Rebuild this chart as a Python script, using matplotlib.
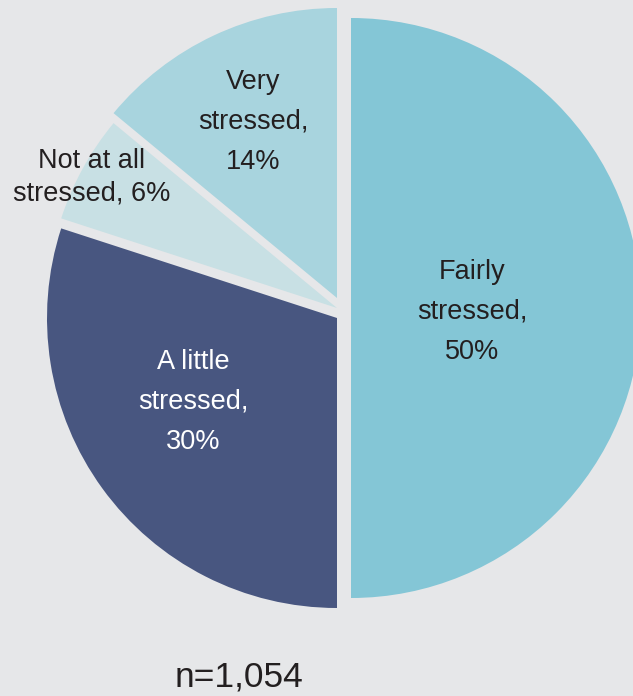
import matplotlib
matplotlib.use('Agg')
import matplotlib.pyplot as plt

# data
labels = ['Fairly\nstressed,\n50%', 'A little\nstressed,\n30%', 'Not at all\nstressed, 6%', 'Very\nstressed,\n14%']
values = [50, 30, 6, 14]
colors = ['#84c6d6', '#485680', '#c8e0e4', '#a8d4de']
text_colors = ['#231f20', 'white', '#231f20', '#231f20']
n_label = 'n=1,054'

W, H = 633, 696
bg = '#e6e7e9'
fam = ['Liberation Sans', 'DejaVu Sans']

fig = plt.figure(figsize=(W / 100, H / 100), dpi=100)
fig.patch.set_facecolor(bg)
ax = fig.add_axes([0, 0, 1, 1])

cx, cy = 337, H - 308
wedges, _ = ax.pie(values, colors=colors, startangle=90, counterclock=False,
                   center=(cx, cy), radius=290, frame=True,
                   wedgeprops=dict(linewidth=0))
ax.set_xlim(0, W)
ax.set_ylim(0, H)
ax.set_aspect('equal')
ax.axis('off')

# slices pulled apart a little, like the original
shifts = [(14, 0), (0, -10), (0, 0), (0, 10)]
for w, (dx, dy) in zip(wedges, shifts):
    w.set_center((cx + dx, cy + dy))

# label positions (pixels from top-left)
label_pos = [(472, 312), (193, 402), (92, 177), (253, 122)]
spacing = [1.68, 1.68, 1.32, 1.68]
for lab, (x, y), c, ls in zip(labels, label_pos, text_colors, spacing):
    ax.text(x, H - y, lab, ha='center', va='center', color=c, fontsize=19.5,
            family=fam, linespacing=ls, multialignment='center')

ax.text(239, H - 677, n_label, ha='center', va='center', color='#231f20',
        fontsize=25.5, family=fam)

plt.savefig('out.png', dpi=100, facecolor=bg)
